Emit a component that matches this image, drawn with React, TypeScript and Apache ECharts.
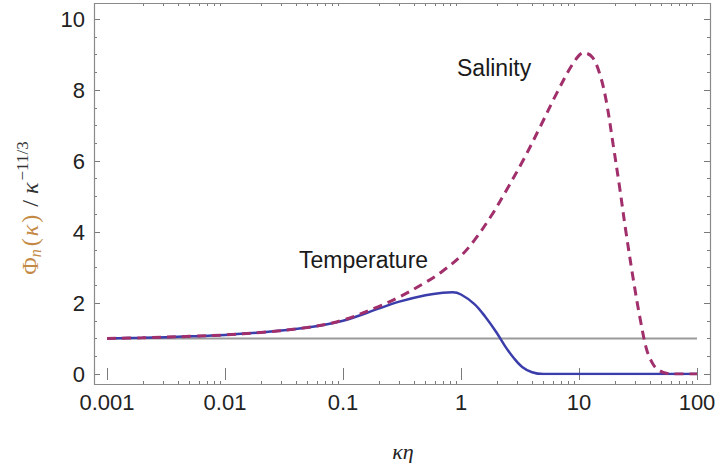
import React, { useEffect, useRef } from "react";
import * as echarts from "echarts";

// ---- data ----
const xTickLabels = ["0.001", "0.01", "0.1", "1", "10", "100"];
const yTickLabels = ["0", "2", "4", "6", "8", "10"];

const refX = [0.001, 100];
const refY = [1, 1];

const tempX = [0.001, 0.002, 0.005, 0.01, 0.02, 0.05, 0.1, 0.2, 0.3, 0.5, 0.7, 0.85, 1.0, 1.3, 1.6, 2.0, 2.4, 2.8, 3.3, 4.0, 5.0, 7, 10, 20, 50, 100];
const tempY = [1.0, 1.02, 1.06, 1.1, 1.17, 1.31, 1.5, 1.84, 2.04, 2.22, 2.29, 2.3, 2.24, 1.97, 1.62, 1.17, 0.75, 0.45, 0.2, 0.05, 0.0, 0, 0, 0, 0, 0];

const salX = [0.001, 0.002, 0.005, 0.01, 0.02, 0.05, 0.1, 0.2, 0.3, 0.5, 0.7, 1.0, 1.3, 1.8, 2.4, 3.4, 4.7, 6.5, 9.0, 11, 13, 15, 17, 19.5, 22, 25, 29, 33, 37.5, 42, 46, 55, 70, 100];
const salY = [1.0, 1.02, 1.06, 1.1, 1.17, 1.31, 1.52, 1.9, 2.17, 2.58, 2.9, 3.33, 3.77, 4.45, 5.15, 6.05, 6.97, 7.92, 8.77, 9.05, 8.92, 8.45, 7.7, 6.45, 5.3, 4.0, 2.62, 1.55, 0.68, 0.3, 0.14, 0.02, 0, 0];

const minorDecades = [0.001, 0.01, 0.1, 1, 10];
const minorMultipliers = [2, 3, 4, 5, 6, 7, 8, 9];

// ---- layout ----
const FRAME = { left: 94, top: 3, right: 710, bottom: 384 };
const GRID = { left: 107, right: 23, top: 19, bottom: 89 };
const TICK_COLOR = "#7a7a7a";
const SANS = "'Liberation Sans', Arial, Helvetica, sans-serif";
const SERIF = "'Liberation Serif', 'DejaVu Serif', 'Times New Roman', serif";
const ORANGE = "#c48a45";

const zip = (xs: number[], ys: number[]) => xs.map((x, i) => [x, ys[i]]);

export default function App() {
  const ref = useRef<HTMLDivElement>(null);
  useEffect(() => {
    if (!ref.current) return;
    const chart = echarts.init(ref.current, null, { renderer: "svg" });
    const minorTicks: number[] = [];
    minorDecades.forEach((d) => minorMultipliers.forEach((m) => minorTicks.push(d * m)));

    const xLabel = (v: number) => {
      const idx = Math.round(Math.log10(v)) + 3;
      return xTickLabels[idx] ?? "";
    };

    const axisTickCommon = { show: true, inside: true, length: 6, lineStyle: { color: TICK_COLOR, width: 1 } };

    chart.setOption({
      animation: false,
      backgroundColor: "#ffffff",
      grid: { left: GRID.left, right: GRID.right, top: GRID.top, bottom: GRID.bottom, containLabel: false },
      xAxis: [
        {
          type: "log",
          logBase: 10,
          min: 0.001,
          max: 100,
          position: "bottom",
          offset: FRAME.bottom - (463 - GRID.bottom),
          axisLine: { show: false },
          axisTick: axisTickCommon,
          splitLine: { show: false },
          axisLabel: { formatter: xLabel, fontFamily: SANS, fontSize: 22, color: "#222", margin: 7 },
        },
        {
          type: "log",
          logBase: 10,
          min: 0.001,
          max: 100,
          position: "top",
          offset: GRID.top - FRAME.top,
          axisLine: { show: false },
          axisTick: axisTickCommon,
          splitLine: { show: false },
          axisLabel: { show: false },
        },
      ],
      yAxis: [
        {
          type: "value",
          min: 0,
          max: 10,
          interval: 2,
          position: "left",
          offset: GRID.left - FRAME.left,
          axisLine: { show: false },
          axisTick: axisTickCommon,
          minorTick: { show: true, splitNumber: 4, length: 3, lineStyle: { color: TICK_COLOR, width: 1 } },
          splitLine: { show: false },
          axisLabel: {
            formatter: (v: number) => yTickLabels[Math.round(v / 2)] ?? "",
            fontFamily: SANS,
            fontSize: 22,
            color: "#222",
            margin: 9,
          },
        },
        {
          type: "value",
          min: 0,
          max: 10,
          interval: 2,
          position: "right",
          offset: FRAME.right - (720 - GRID.right),
          axisLine: { show: false },
          axisTick: axisTickCommon,
          minorTick: { show: true, splitNumber: 4, length: 3, lineStyle: { color: TICK_COLOR, width: 1 } },
          splitLine: { show: false },
          axisLabel: { show: false },
        },
      ],
      series: [
        {
          type: "custom",
          name: "minorTicks",
          xAxisIndex: 0,
          yAxisIndex: 0,
          clip: false,
          silent: true,
          data: minorTicks.map((v) => [v, 0]),
          renderItem: (params: any, api: any) => {
            const p = api.coord([api.value(0), 0]);
            const x = Math.round(p[0]) + 0.5;
            return {
              type: "group",
              children: [
                { type: "line", shape: { x1: x, y1: FRAME.bottom, x2: x, y2: FRAME.bottom - 3 }, style: { stroke: TICK_COLOR, lineWidth: 1 } },
                { type: "line", shape: { x1: x, y1: FRAME.top, x2: x, y2: FRAME.top + 3 }, style: { stroke: TICK_COLOR, lineWidth: 1 } },
              ],
            };
          },
        },
        {
          type: "line",
          name: "reference",
          data: zip(refX, refY),
          showSymbol: false,
          lineStyle: { color: "#9a9a9a", width: 2 },
          z: 2,
        },
        {
          type: "line",
          name: "Temperature",
          data: zip(tempX, tempY),
          showSymbol: false,
          smooth: 0.35,
          lineStyle: { color: "#3b3eaa", width: 2.5 },
          z: 3,
        },
        {
          type: "line",
          name: "Salinity",
          data: zip(salX, salY),
          showSymbol: false,
          smooth: 0.35,
          lineStyle: { color: "#a02f6b", width: 3, type: [9, 6] },
          z: 4,
        },
      ],
      graphic: [
        {
          type: "rect",
          shape: { x: FRAME.left + 0.5, y: FRAME.top + 0.5, width: FRAME.right - FRAME.left, height: FRAME.bottom - FRAME.top },
          style: { fill: "none", stroke: "#8a8a8a", lineWidth: 1.2 },
          silent: true,
          z: 10,
        },
        {
          type: "text",
          x: 457,
          y: 68,
          style: { text: "Salinity", font: `23px ${SANS}`, fill: "#1a1a1a", verticalAlign: "middle" },
        },
        {
          type: "text",
          x: 299,
          y: 260,
          style: { text: "Temperature", font: `23px ${SANS}`, fill: "#1a1a1a", verticalAlign: "middle" },
        },
        {
          type: "text",
          x: 403,
          y: 451,
          style: { text: "κη", font: `italic 22px ${SERIF}`, fill: "#222", align: "center", verticalAlign: "middle" },
        },
        {
          type: "text",
          x: 30,
          y: 208,
          rotation: Math.PI / 2,
          style: {
            text: "{phi|Φ}{sub|n}{br|(}{it|κ}{br|)}{sl|/}{it2|κ}{sup|−11/3}",
            align: "center",
            verticalAlign: "middle",
            rich: {
              phi: { fontFamily: SERIF, fontSize: 24, fill: ORANGE },
              sub: { fontFamily: SERIF, fontStyle: "italic", fontSize: 16, fill: ORANGE, padding: [10, 1, 0, 0] },
              br: { fontFamily: SERIF, fontSize: 24, fill: ORANGE, padding: [0, 2, 0, 2] },
              it: { fontFamily: SERIF, fontStyle: "italic", fontSize: 24, fill: ORANGE },
              sl: { fontFamily: SERIF, fontSize: 24, fill: "#333", padding: [0, 6, 0, 6] },
              it2: { fontFamily: SERIF, fontStyle: "italic", fontSize: 24, fill: "#333" },
              sup: { fontFamily: SERIF, fontSize: 17, fill: "#333", padding: [0, 0, 16, 2] },
            },
          },
        },
      ],
    });
    return () => chart.dispose();
  }, []);
  return <div ref={ref} style={{ position: "fixed", left: 0, top: 0, width: 720, height: 463 }} />;
}
